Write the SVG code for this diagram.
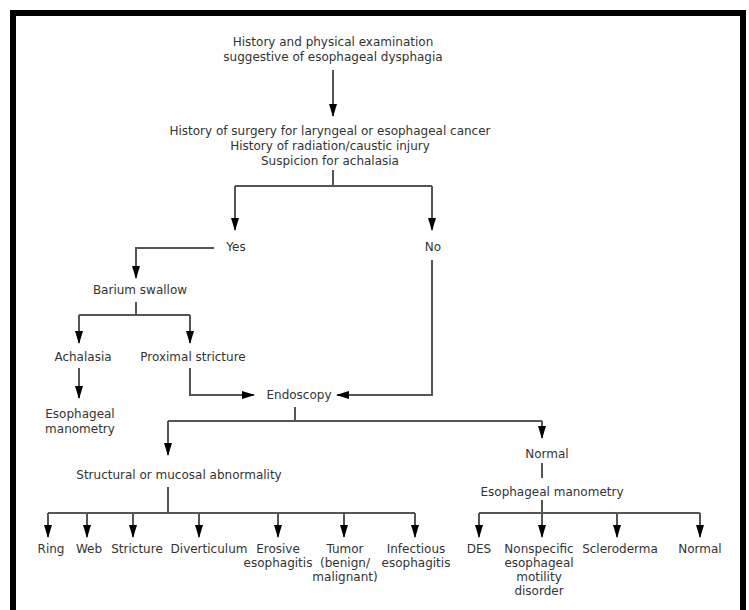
<svg xmlns="http://www.w3.org/2000/svg" width="749" height="610" viewBox="0 0 749 610">
<defs>
<marker id="ah" viewBox="0 0 13 8" refX="12" refY="4" markerWidth="13" markerHeight="8" markerUnits="userSpaceOnUse" orient="auto">
<path d="M0,0 L13,4 L0,8 z" fill="#000"/>
</marker>
<style>
text{font-family:"DejaVu Sans","Verdana",sans-serif;font-size:12px;fill:#333;text-anchor:middle}
.c path{fill:none;stroke:#555;stroke-width:2}
.c path.a{marker-end:url(#ah)}
</style>
</defs>
<rect width="749" height="610" fill="#fff"/>
<path d="M13,615 V13 H743 V615" fill="none" stroke="#000" stroke-width="6"/>
<g class="c" id="connectors">
<path class="a" d="M333,70 V116"/>
<path d="M333,170 V186"/>
<path d="M235,186 H432"/>
<path class="a" d="M235,186 V230"/>
<path class="a" d="M432,186 V230"/>
<path class="a" d="M214,248 H136 V278"/>
<path d="M136,302 V315"/>
<path d="M79,315 H190"/>
<path class="a" d="M79,315 V343"/>
<path class="a" d="M190,315 V343"/>
<path class="a" d="M79,368 V398"/>
<path class="a" d="M190,368 V395 H254"/>
<path class="a" d="M432,260 V395 H337"/>
<path d="M295,407 V421"/>
<path d="M168,421 H542"/>
<path class="a" d="M168,421 V455"/>
<path class="a" d="M542,421 V438"/>
<path d="M542,463 V478"/>
<path d="M542,500 V513"/>
<path d="M479,513 H700"/>
<path class="a" d="M479,513 V537"/>
<path class="a" d="M542,513 V537"/>
<path class="a" d="M617,513 V537"/>
<path class="a" d="M700,513 V537"/>
<path d="M168,487 V513"/>
<path d="M48,513 H415"/>
<path class="a" d="M48,513 V537"/>
<path class="a" d="M87,513 V537"/>
<path class="a" d="M133,513 V537"/>
<path class="a" d="M199,513 V537"/>
<path class="a" d="M278,513 V537"/>
<path class="a" d="M344,513 V537"/>
<path class="a" d="M415,513 V537"/>
</g>
<g id="n-history"><text x="333" y="46">History and physical examination</text><text x="333" y="61">suggestive of esophageal dysphagia</text></g>
<g id="n-risk"><text x="330" y="135">History of surgery for laryngeal or esophageal cancer</text><text x="330" y="150">History of radiation/caustic injury</text><text x="330" y="165">Suspicion for achalasia</text></g>
<g id="n-yes"><text x="236" y="251">Yes</text></g>
<g id="n-no"><text x="433" y="251">No</text></g>
<g id="n-barium"><text x="140" y="294">Barium swallow</text></g>
<g id="n-achalasia"><text x="83" y="361">Achalasia</text></g>
<g id="n-proximal"><text x="193" y="361">Proximal stricture</text></g>
<g id="n-manometry1"><text x="80" y="418">Esophageal</text><text x="80" y="433">manometry</text></g>
<g id="n-endoscopy"><text x="299" y="399">Endoscopy</text></g>
<g id="n-structural"><text x="179" y="479">Structural or mucosal abnormality</text></g>
<g id="n-normal1"><text x="547" y="458">Normal</text></g>
<g id="n-manometry2"><text x="552" y="496">Esophageal manometry</text></g>
<g id="n-ring"><text x="51" y="553">Ring</text></g>
<g id="n-web"><text x="89" y="553">Web</text></g>
<g id="n-stricture"><text x="137" y="553">Stricture</text></g>
<g id="n-divert"><text x="209" y="553">Diverticulum</text></g>
<g id="n-erosive"><text x="278" y="553">Erosive</text><text x="278" y="567">esophagitis</text></g>
<g id="n-tumor"><text x="345" y="553">Tumor</text><text x="345" y="567">(benign/</text><text x="345" y="581">malignant)</text></g>
<g id="n-infect"><text x="416" y="553">Infectious</text><text x="416" y="567">esophagitis</text></g>
<g id="n-des"><text x="479" y="553">DES</text></g>
<g id="n-nonspec"><text x="539" y="553">Nonspecific</text><text x="539" y="567">esophageal</text><text x="539" y="581">motility</text><text x="539" y="595">disorder</text></g>
<g id="n-sclero"><text x="620" y="553">Scleroderma</text></g>
<g id="n-normal2"><text x="700" y="553">Normal</text></g>
</svg>
